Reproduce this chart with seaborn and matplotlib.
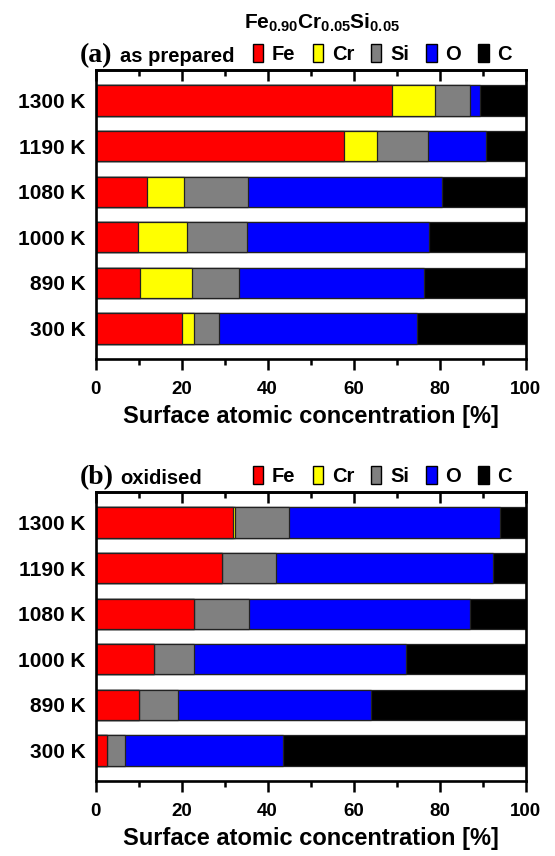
import numpy as np
import pandas as pd
import matplotlib
matplotlib.use('Agg')
import matplotlib.pyplot as plt
import seaborn as sns
from matplotlib.ticker import MultipleLocator
from matplotlib.patches import Patch

# ---------------- data ----------------
temps = ['1300 K', '1190 K', '1080 K', '1000 K', '890 K', '300 K']
elements = ['Fe', 'Cr', 'Si', 'O', 'C']
colors = ['#ff0000', '#ffff00', '#808080', '#0000ff', '#000000']

prep_fe = [69.0, 57.8, 11.9, 9.8, 10.3, 20.1]
prep_cr = [9.9, 7.7, 8.6, 11.4, 12.1, 2.8]
prep_si = [8.2, 11.9, 15.0, 14.0, 11.0, 5.8]
prep_o = [2.3, 13.4, 45.0, 42.4, 42.9, 46.1]
prep_c = [10.6, 9.2, 19.5, 22.4, 23.7, 25.2]

ox_fe = [32.0, 29.5, 22.9, 13.6, 10.2, 2.6]
ox_cr = [0.5, 0.0, 0.0, 0.0, 0.0, 0.0]
ox_si = [12.4, 12.4, 12.9, 9.3, 9.0, 4.3]
ox_o = [49.1, 50.5, 51.3, 49.2, 44.8, 36.6]
ox_c = [6.0, 7.6, 12.9, 27.9, 36.0, 56.5]

x_ticks = [0, 20, 40, 60, 80, 100]
xlabel = 'Surface atomic concentration [%]'
title = r'$\mathbf{Fe_{0.90}Cr_{0.05}Si_{0.05}}$'

# ---------------- style ----------------
sns.set_theme(style='white')
plt.rcParams['font.family'] = ['Liberation Sans', 'DejaVu Sans']
plt.rcParams['font.weight'] = 'bold'
plt.rcParams['axes.labelweight'] = 'bold'
plt.rcParams['text.color'] = 'black'
plt.rcParams['axes.labelcolor'] = 'black'
plt.rcParams['xtick.color'] = 'black'
plt.rcParams['ytick.color'] = 'black'
plt.rcParams['mathtext.fontset'] = 'custom'
plt.rcParams['mathtext.bf'] = 'Liberation Sans:bold'
plt.rcParams['mathtext.rm'] = 'Liberation Sans'

W, H = 555, 856
fig = plt.figure(figsize=(W / 100, H / 100), dpi=100)

def fx(px):
    return px / W

def fy(py):
    return 1 - py / H

ax_left, ax_right = 95.5, 525.5
panels = [
    (dict(Fe=prep_fe, Cr=prep_cr, Si=prep_si, O=prep_o, C=prep_c), 70, '(a)', 'as prepared'),
    (dict(Fe=ox_fe, Cr=ox_cr, Si=ox_si, O=ox_o, C=ox_c), 492, '(b)', 'oxidised'),
]
ax_h = 289

for data, top, plabel, ptext in panels:
    ax = fig.add_axes([fx(ax_left), fy(top + ax_h), fx(ax_right - ax_left), ax_h / H])
    df = pd.DataFrame(data)
    cum = df[elements].cumsum(axis=1)
    cum['temp'] = temps
    for k in reversed(range(len(elements))):
        sns.barplot(data=cum, x=elements[k], y='temp', orient='h', color=colors[k],
                    saturation=1, width=0.66, edgecolor='#222222', linewidth=0.9,
                    ax=ax, order=temps)
    ax.set_xlim(0, 100)
    ax.set_ylim(len(temps) - 1 + 0.67, -0.67)
    ax.set_xticks(x_ticks)
    ax.xaxis.set_minor_locator(MultipleLocator(10))
    ax.set_xlabel(xlabel, fontsize=17, fontweight='bold', labelpad=5, color='black')
    ax.set_ylabel('')
    ax.tick_params(axis='x', which='major', direction='out', length=8, width=1.8,
                   labelsize=13.5, pad=8, bottom=True, color='black', labelcolor='black')
    ax.tick_params(axis='x', which='minor', direction='out', length=4.5, width=1.8,
                   bottom=True, color='black')
    ax.tick_params(axis='y', length=0, labelsize=15, pad=7, labelcolor='black')
    for lab in ax.get_xticklabels() + ax.get_yticklabels():
        lab.set_fontweight('bold')
    for sp in ax.spines.values():
        sp.set_visible(True)
        sp.set_linewidth(1.9)
        sp.set_color('black')
    sec = ax.secondary_xaxis('top')
    sec.set_xticks(x_ticks)
    sec.xaxis.set_minor_locator(MultipleLocator(10))
    sec.tick_params(axis='x', which='major', direction='in', length=8, width=1.8,
                    labeltop=False, color='black')
    sec.tick_params(axis='x', which='minor', direction='in', length=4.5, width=1.8,
                    color='black')
    sec.spines['top'].set_linewidth(1.9)
    sec.spines['top'].set_color('black')

    # panel label and text
    fig.text(fx(80), fy(top - 8), plabel, family='Liberation Serif', fontweight='bold',
             fontsize=20, ha='left', va='baseline', color='black')
    fig.text(fx(120), fy(top - 8), ptext, fontweight='bold', fontsize=14.5,
             ha='left', va='baseline', color='black')
    handles = [Patch(facecolor=c, edgecolor='black', linewidth=1.0) for c in colors]
    fig.legend(handles, elements, loc='center', ncol=5, frameon=False,
               bbox_to_anchor=(fx(382.5), fy(top - 16)),
               prop=dict(family='Liberation Sans', weight='bold', size=14.5),
               labelcolor='black',
               handlelength=0.5, handleheight=1.0, handletextpad=0.45,
               columnspacing=0.85, borderaxespad=0, borderpad=0)

fig.text(fx(322), fy(23), title, fontsize=15, ha='center', va='center', color='black')

fig.savefig('out.png', dpi=100)
